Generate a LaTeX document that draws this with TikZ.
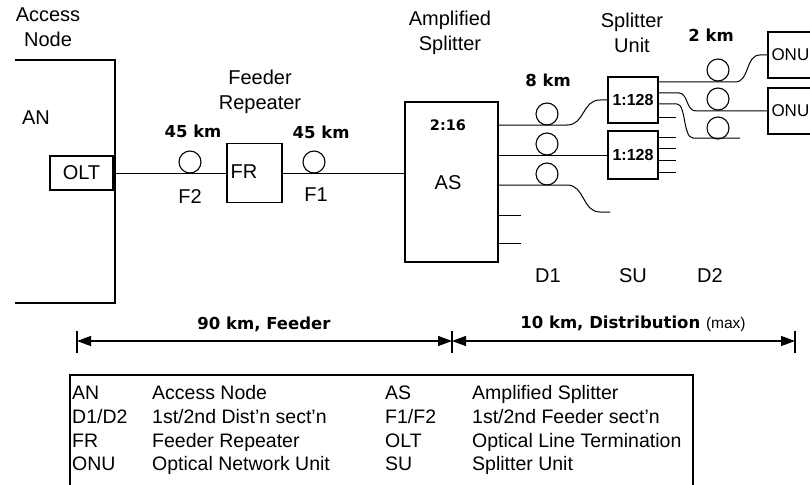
\documentclass[tikz,border=0pt]{standalone}
\usepackage{fontspec}
\setmainfont{Liberation Sans}
\newfontfamily\plotfont{DejaVu Sans}
\usetikzlibrary{arrows.meta}
\begin{document}
\begin{tikzpicture}[x=1pt,y=-1pt,
  lbl/.style={inner sep=0pt, font=\fontsize{20}{25}\selectfont, align=center},
  km/.style={inner sep=0pt, font=\plotfont\bfseries\fontsize{16.5}{18}\selectfont},
  box/.style={draw, line width=1.6pt, inner sep=0pt},
  fibre/.style={line width=1pt},
  coil/.style={draw, circle, line width=1.1pt, minimum size=22pt, inner sep=0pt},
  leg/.style={inner sep=0pt, anchor=base west, font=\fontsize{19.5}{22}\selectfont},
  dimline/.style={line width=1.2pt, {Triangle[length=14pt,width=10pt]}-{Triangle[length=14pt,width=10pt]}},
  tick/.style={line width=1.2pt},
]
\useasboundingbox (0,0) rectangle (810,484);
\clip (0,0) rectangle (810,484);

% level coordinates
\coordinate (y82) at (0,82);
\coordinate (y93) at (0,93);
\coordinate (y104) at (0,104);
\coordinate (y117) at (0,117);
\coordinate (y125) at (0,125);
\coordinate (y137) at (0,137);
\coordinate (y148) at (0,148);
\coordinate (y155) at (0,155);
\coordinate (y160) at (0,160);
\coordinate (y172) at (0,172);
\coordinate (y185) at (0,185);
\coordinate (y215) at (0,215);
\coordinate (y243) at (0,243);

% Access node
\node[lbl] (tan) at (48,27.5) {Access\\Node};
\draw[line width=2pt] (15,60) -- (115,60) -- (115,303) -- (15,303);
\node[lbl] (an) at (36,118) {AN};
\node[box, minimum width=63pt, minimum height=34pt, font=\fontsize{20}{24}\selectfont] (olt) at (81.5,173) {OLT};

% Feeder repeater
\node[lbl] (tfr) at (260,91.5) {Feeder\\Repeater};
\node[box, minimum width=55pt, minimum height=59pt] (fr) at (254.5,173) {};
\node[lbl] (frt) at (244,172) {FR};
\node[coil] (cf2) at (190,162) {};
\node[coil] (cf1) at (314,162) {};
\node[km] (k1) at (193,131) {45 km};
\node[km] (k2) at (321,132) {45 km};
\node[lbl] (f2) at (190,197) {F2};
\node[lbl] (f1) at (316,195) {F1};
\draw[fibre] (olt.east) -- (fr.west);

% Amplified splitter
\node[lbl] (tas) at (450,32.5) {Amplified\\Splitter};
\node[box, minimum width=93pt, minimum height=160pt] (as) at (451.5,182) {};
\node[km, font=\plotfont\bfseries\fontsize{14.5}{16}\selectfont] (r216) at (448,125) {2:16};
\node[lbl] (ast) at (448,183) {AS};
\draw[fibre] (fr.east) -- (fr.east -| as.west);

% D1 coils and fibres
\node[km] (k8) at (548,80) {8 km};
\node[coil] (cd1) at (547,114) {};
\node[coil] (cd2) at (547,144) {};
\node[coil] (cd3) at (547,174) {};

% Splitter units
\node[lbl] (tsu) at (632,32.5) {Splitter\\Unit};
\node[box, minimum width=50pt, minimum height=46pt, font=\bfseries\fontsize{16}{18}\selectfont] (su1) at (633,100) {1:128};
\node[box, minimum width=50pt, minimum height=48pt, font=\bfseries\fontsize{16}{18}\selectfont] (su2) at (633,155) {1:128};

\coordinate (d1end) at (610,212);
\draw[fibre] (as.east |- y125) -- (567,125) .. controls (585,125) and (582,100) .. (600,100) -- (su1.west);
\draw[fibre] (as.east |- y155) -- (su2.west);
\draw[fibre] (as.east |- y185) -- (567,185) .. controls (585,185) and (582,212) .. (600,212) -- (d1end);
\draw[fibre] (as.east |- y215) -- ++(22,0);
\draw[fibre] (as.east |- y243) -- ++(22,0);

% ONUs
\node[box, minimum width=62pt, minimum height=46pt, inner xsep=3.5pt, text width=55pt, align=left, font=\fontsize{17}{20}\selectfont] (onu1) at (799,55) {ONU};
\node[box, minimum width=62pt, minimum height=46pt, inner xsep=3.5pt, text width=55pt, align=left, font=\fontsize{17}{20}\selectfont] (onu2) at (799,111) {ONU};

% D2 coils
\node[km] (k2k) at (711,35) {2 km};
\node[coil] (ce1) at (718,70) {};
\node[coil] (ce2) at (718,99) {};
\node[coil] (ce3) at (718,128) {};

\coordinate (d2end) at (740,138);
\draw[fibre] (su1.east |- y82) -- (735,82) .. controls (750,82) and (745,55) .. (760,55) -- (onu1.west);
\draw[fibre] (su1.east |- y93) -- (679,93) .. controls (688,93) and (686,111) .. (696,111) -- (onu2.west);
\draw[fibre] (su1.east |- y104) -- (677,104) .. controls (686,104) and (683,138) .. (693,138) -- (d2end);
\draw[fibre] (su1.east |- y117) -- ++(17,0);
\draw[fibre] (su2.east |- y137) -- ++(17,0);
\draw[fibre] (su2.east |- y148) -- ++(17,0);
\draw[fibre] (su2.east |- y160) -- ++(17,0);
\draw[fibre] (su2.east |- y172) -- ++(17,0);

% section labels
\node[lbl] (ld1) at (548,276) {D1};
\node[lbl] (lsu) at (633,276) {SU};
\node[lbl] (ld2) at (710,276) {D2};

% dimension line
\coordinate (m1) at (77,341);
\coordinate (m2) at (452,341);
\coordinate (m3) at (795,341);
\draw[tick] (77,331) -- (77,353);
\draw[tick] (452,331) -- (452,353);
\draw[tick] (795,331) -- (795,353);
\draw[dimline] (m1) -- (m2);
\draw[dimline] (m2) -- (m3);
\node[km, font=\plotfont\bfseries\fontsize{16.5}{18}\selectfont] (tfeed) at (264,324) {90 km, Feeder};
\node[km, font=\plotfont\bfseries\fontsize{16.5}{18}\selectfont] (tdist) at (633,324) {10 km, Distribution {\normalfont\fontsize{15.5}{18}\selectfont (max)}};

% legend
\draw[line width=1.6pt] (70,500) -- (70,375) -- (693,375) -- (693,500);
\node[leg] at (72,399) {AN};
\node[leg] at (72,423) {D1/D2};
\node[leg] at (72,447) {FR};
\node[leg] at (72,470) {ONU};
\node[leg] at (152,399) {Access Node};
\node[leg] at (152,423) {1st/2nd Dist'n sect'n};
\node[leg] at (152,447) {Feeder Repeater};
\node[leg] at (152,470) {Optical Network Unit};
\node[leg] at (385,399) {AS};
\node[leg] at (385,423) {F1/F2};
\node[leg] at (385,447) {OLT};
\node[leg] at (385,470) {SU};
\node[leg] at (472,399) {Amplified Splitter};
\node[leg] at (472,423) {1st/2nd Feeder sect'n};
\node[leg] at (472,447) {Optical Line Termination};
\node[leg] at (472,470) {Splitter Unit};
\end{tikzpicture}
\end{document}
